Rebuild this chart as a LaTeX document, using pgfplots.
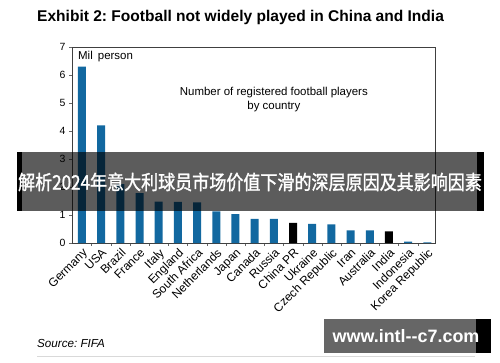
\documentclass[border=0pt]{standalone}
\usepackage{fontspec}
\setmainfont{Liberation Sans}
\newfontfamily\cjk[FakeBold=1.5]{Noto Sans CJK SC}
\usepackage{pgfplots}
\pgfplotsset{compat=1.18}
\definecolor{barblue}{RGB}{18,104,160}
\frenchspacing
\begin{document}
\begin{tikzpicture}[x=1bp,y=1bp]
\useasboundingbox (0,0) rectangle (500,-362);
\node[anchor=west,inner sep=0pt,font=\bfseries\fontsize{15.6}{18}\selectfont] at (37,-17) {Exhibit 2: Football not widely played in China and India};
\begin{axis}[
  at={(72bp,-243bp)}, anchor=south west, scale only axis,
  width=363bp, height=196bp,
  ymin=0, ymax=7, xmin=-0.52, xmax=18.4,
  ytick={0,...,7},
  xtick={0,...,18},
  xticklabels={Germany,USA,Brazil,France,Italy,England,South Africa,Netherlands,Japan,Canada,Russia,China PR,Ukraine,Czech Republic,Iran,Australia,India,Indonesia,Korea Republic},
  minor xtick={0.5,1.5,...,17.5},
  tick pos=left, tick align=outside,
  major x tick style={draw=none},
  minor tick length=3bp, major tick length=3bp,
  tick style={black!60},
  axis line style={black!75, line width=0.6pt},
  x tick label style={rotate=45, anchor=north east, inner sep=1pt, font=\fontsize{12}{14}\selectfont},
  y tick label style={font=\fontsize{10.5}{12}\selectfont},
  /pgf/number format/assume math mode=true,
  ybar, bar width=8bp, bar shift=0pt,
  clip=false,
]
\addplot[fill=barblue, draw=none] coordinates {
(0,6.3)(1,4.2)(2,2.1)(3,1.78)(4,1.48)(5,1.47)(6,1.45)(7,1.13)(8,1.03)(9,0.86)(10,0.86)(12,0.68)(13,0.67)(14,0.45)(15,0.45)(17,0.05)(18,0.02)};
\addplot[fill=black, draw=none] coordinates {(11,0.72)(16,0.42)};
\node[anchor=west, inner sep=0pt, font=\fontsize{11.5}{13}\selectfont] at (rel axis cs:0.0165,0.949) {Mil\, person};
\node[align=center, inner sep=0pt, font=\fontsize{11.5}{14}\selectfont] at (rel axis cs:0.556,0.73) {Number of registered football players\\by country};
\end{axis}
\node[anchor=west,inner sep=0pt,font=\itshape\fontsize{11.7}{13}\selectfont] at (37,-343) {Source: FIFA};
\draw[black!15, line width=0.6pt] (37,-356) -- (475,-356);
% overlay banner
\fill[black, opacity=0.64] (22,-152) rectangle (477,-211);
\fill[black] (17,-152) rectangle (22,-211);
\fill[black] (477,-152) rectangle (484,-211);
\node[white, inner sep=0pt] at (250,-182) {\scalebox{0.855}[1]{\cjk\fontsize{20}{24}\selectfont 解析2024年意大利球员市场价值下滑的深层原因及其影响因素}};
\fill[black!60] (324,-319) rectangle (476,-353);
\fill[black] (476,-319) rectangle (491,-353);
\node[white, inner sep=0pt, font=\bfseries\fontsize{18}{20}\selectfont] at (406,-336) {www.intl-{}-c7.com};
\end{tikzpicture}
\end{document}
